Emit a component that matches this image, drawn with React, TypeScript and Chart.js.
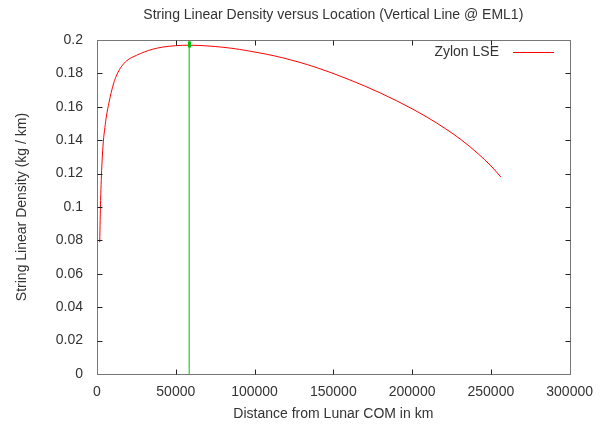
import React, { useEffect, useRef } from "react";
import { Chart, registerables } from "chart.js";

Chart.register(...registerables);

const chartTitle = "String Linear Density versus Location (Vertical Line @ EML1)";
const xAxisTitle = "Distance from Lunar COM in km";
const yAxisTitle = "String Linear Density (kg / km)";
const seriesName = "Zylon LSE";

const distanceKm = [
  1740, 2000, 2300, 2700, 3200, 4000, 5000, 6000, 7600, 9000, 10700, 12500, 15000, 19000,
  25000, 30000, 35000, 42000, 50000, 58500, 66000, 75000, 85000, 96000, 107000, 118000,
  128000, 139000, 149000, 160000, 170000, 180000, 190000, 200000, 210000, 221000, 231000,
  242000, 250000, 256300,
];
const densityKgPerKm = [
  0.079, 0.092, 0.104, 0.116, 0.127, 0.139, 0.1475, 0.1545, 0.1625, 0.1685, 0.1745, 0.179,
  0.1834, 0.1877, 0.1908, 0.1928, 0.1944, 0.1958, 0.1966, 0.1969, 0.1967, 0.1961, 0.1951,
  0.1935, 0.1916, 0.1893, 0.1868, 0.1836, 0.1803, 0.1763, 0.1724, 0.1682, 0.1637, 0.1588,
  0.1535, 0.147, 0.1404, 0.1318, 0.1247, 0.118,
];

const eml1Km = [58500, 58500];
const eml1Line = [0, 0.2];

const xTicks = [0, 50000, 100000, 150000, 200000, 250000, 300000];
const xTickLabels = ["0", "50000", "100000", "150000", "200000", "250000", "300000"];
const yTicks = [0, 0.02, 0.04, 0.06, 0.08, 0.1, 0.12, 0.14, 0.16, 0.18, 0.2];
const yTickLabels = ["0", "0.02", "0.04", "0.06", "0.08", "0.1", "0.12", "0.14", "0.16", "0.18", "0.2"];

const FONT = "'Liberation Sans', Arial, sans-serif";
const FONT_SIZE = 14;
const TEXT_COLOR = "#333333";
const RED = "#ff0000";
const GREEN = "#00c000";

const framePlugin = {
  id: "gnuplotFrame",
  afterDatasetsDraw(chart: any) {
    const { ctx, chartArea } = chart;
    const xs = chart.scales.x;
    const ys = chart.scales.y;
    const L = Math.round(chartArea.left) + 0.5;
    const R = Math.round(chartArea.right) + 0.5;
    const T = Math.round(chartArea.top) + 0.5;
    const B = Math.round(chartArea.bottom) + 0.5;
    ctx.save();
    // arrow head on EML1 line
    const ex = xs.getPixelForValue(eml1Km[1]);
    ctx.fillStyle = GREEN;
    ctx.fillRect(Math.round(ex) - 1, T + 1, 3, 6);
    // border
    ctx.strokeStyle = "#777777";
    ctx.lineWidth = 1;
    ctx.strokeRect(L, T, R - L, B - T);
    // ticks
    ctx.strokeStyle = "#222222";
    ctx.beginPath();
    const tl = 5;
    xTicks.forEach((v) => {
      const px = Math.round(xs.getPixelForValue(v)) + 0.5;
      if (v === xTicks[0] || v === xTicks[xTicks.length - 1]) return;
      ctx.moveTo(px, B);
      ctx.lineTo(px, B - tl);
      ctx.moveTo(px, T);
      ctx.lineTo(px, T + tl);
    });
    yTicks.forEach((v) => {
      const py = Math.round(ys.getPixelForValue(v)) + 0.5;
      if (v === yTicks[0] || v === yTicks[yTicks.length - 1]) return;
      ctx.moveTo(L, py);
      ctx.lineTo(L + tl, py);
      ctx.moveTo(R, py);
      ctx.lineTo(R - tl, py);
    });
    ctx.stroke();

    // texts
    ctx.fillStyle = TEXT_COLOR;
    ctx.font = `${FONT_SIZE}px ${FONT}`;
    ctx.textBaseline = "middle";
    const cx = (chartArea.left + chartArea.right) / 2;
    ctx.textAlign = "center";
    ctx.fillText(chartTitle, cx, 15);
    ctx.fillText(xAxisTitle, cx, 414);
    ctx.save();
    ctx.translate(22, (chartArea.top + chartArea.bottom) / 2);
    ctx.rotate(-Math.PI / 2);
    ctx.fillText(yAxisTitle, 0, 0);
    ctx.restore();

    // legend
    ctx.textAlign = "right";
    ctx.fillText(seriesName, 499, 52);
    ctx.strokeStyle = RED;
    ctx.beginPath();
    ctx.moveTo(513, 52.5);
    ctx.lineTo(554, 52.5);
    ctx.stroke();
    ctx.restore();
  },
};

export default function App() {
  const canvasRef = useRef<HTMLCanvasElement | null>(null);

  useEffect(() => {
    document.body.style.margin = "0";
    const canvas = canvasRef.current;
    if (!canvas) return;
    const chart = new Chart(canvas, {
      type: "line",
      data: {
        datasets: [
          {
            label: seriesName,
            data: distanceKm.map((d, i) => ({ x: d, y: densityKgPerKm[i] })),
            borderColor: RED,
            borderWidth: 1,
            pointRadius: 0,
            cubicInterpolationMode: "monotone",
            fill: false,
          },
          {
            label: "EML1",
            data: eml1Km.map((d, i) => ({ x: d, y: eml1Line[i] })),
            borderColor: GREEN,
            borderWidth: 1,
            pointRadius: 0,
            fill: false,
          },
        ],
      },
      options: {
        responsive: false,
        animation: false,
        layout: { padding: { left: 0, right: 31, top: 40, bottom: 0 } },
        plugins: {
          legend: { display: false },
          title: { display: false },
          tooltip: { enabled: false },
        },
        scales: {
          x: {
            type: "linear",
            min: 0,
            max: 300000,
            grid: { display: false, drawTicks: false },
            border: { display: false },
            afterBuildTicks: (s: any) => {
              s.ticks = xTicks.map((v) => ({ value: v }));
            },
            afterFit: (s: any) => {
              s.height = 53;
            },
            ticks: {
              padding: 10,
              color: TEXT_COLOR,
              font: { family: FONT, size: FONT_SIZE },
              maxRotation: 0,
              autoSkip: false,
              callback: (v: any) => xTickLabels[xTicks.indexOf(Number(v))] ?? String(v),
            },
          },
          y: {
            type: "linear",
            min: 0,
            max: 0.2,
            grid: { display: false, drawTicks: false },
            border: { display: false },
            afterBuildTicks: (s: any) => {
              s.ticks = yTicks.map((v) => ({ value: v }));
            },
            afterFit: (s: any) => {
              s.width = 97;
            },
            ticks: {
              padding: 14,
              color: TEXT_COLOR,
              font: { family: FONT, size: FONT_SIZE },
              autoSkip: false,
              callback: (v: any) => {
                const idx = yTicks.findIndex((t) => Math.abs(t - Number(v)) < 1e-9);
                return idx >= 0 ? yTickLabels[idx] : String(v);
              },
            },
          },
        },
      },
      plugins: [framePlugin],
    });
    return () => chart.destroy();
  }, []);

  return (
    <div style={{ width: 603, height: 427, background: "#ffffff" }}>
      <canvas ref={canvasRef} width={603} height={427} style={{ display: "block" }} />
    </div>
  );
}
